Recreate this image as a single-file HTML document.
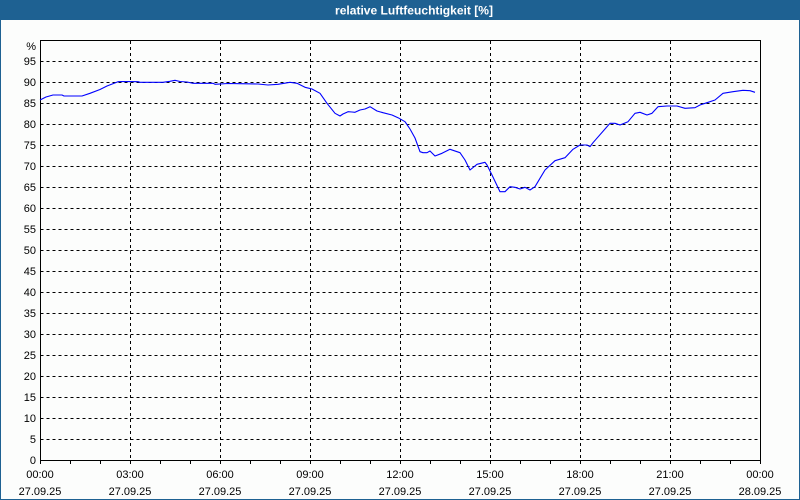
<!DOCTYPE html>
<html><head><meta charset="utf-8"><style>
html,body{margin:0;padding:0;background:#fcfdfc;}
svg{display:block;}
text{font-family:"Liberation Sans","DejaVu Sans",sans-serif;}
</style></head><body>
<svg width="800" height="500" viewBox="0 0 800 500" xmlns="http://www.w3.org/2000/svg">
<rect x="0" y="0" width="800" height="500" fill="#fcfdfc"/>
<rect x="0" y="0" width="800" height="20" fill="#1e6192"/>
<rect x="0" y="0" width="1" height="500" fill="#1e6192"/>
<rect x="799" y="0" width="1" height="500" fill="#1e6192"/>
<rect x="0" y="499" width="800" height="1" fill="#1e6192"/>
<text x="414" y="14.5" text-anchor="middle" font-size="12" font-weight="bold" fill="#ffffff" textLength="158" lengthAdjust="spacingAndGlyphs">relative Luftfeuchtigkeit [%]</text>

<g stroke="#000" stroke-width="1" stroke-dasharray="3,3" shape-rendering="crispEdges" fill="none">
<path d="M40.5 61.5H760M40.5 82.5H760M40.5 103.5H760M40.5 124.5H760M40.5 145.5H760M40.5 166.5H760M40.5 187.5H760M40.5 208.5H760M40.5 229.5H760M40.5 250.5H760M40.5 271.5H760M40.5 292.5H760M40.5 313.5H760M40.5 334.5H760M40.5 355.5H760M40.5 376.5H760M40.5 397.5H760M40.5 418.5H760M40.5 439.5H760"/>
<path d="M130.5 41V460M220.5 41V460M310.5 41V460M400.5 41V460M490.5 41V460M580.5 41V460M670.5 41V460"/>
</g>
<g stroke="#000" stroke-width="1" shape-rendering="crispEdges" fill="none">
<path d="M40.5 40.5H760.5V460.5H40.5Z"/>
<path d="M40.5 460V464M70.5 460V464M100.5 460V464M130.5 460V464M160.5 460V464M190.5 460V464M220.5 460V464M250.5 460V464M280.5 460V464M310.5 460V464M340.5 460V464M370.5 460V464M400.5 460V464M430.5 460V464M460.5 460V464M490.5 460V464M520.5 460V464M550.5 460V464M580.5 460V464M610.5 460V464M640.5 460V464M670.5 460V464M700.5 460V464M730.5 460V464M760.5 460V464"/>
</g>

<polyline fill="none" stroke="#0000ff" stroke-width="1.1" stroke-linejoin="round" points="40,100 46,97 53,95 62,95 64,96 82,96 90,93.3 100,89.5 107,86 118,81.7 122,81.5 138,81.7 140,82.3 163,82.3 170,81.3 175,80.3 180,81.5 187,82 193,83.3 213,83.3 215,84.3 228,83.5 240,83.7 258,84 268,85 278,84.3 290,82.3 297,83.3 305,87.3 312,89 320,93.3 327,103.3 335,113.3 340,116 343,114 348,111.7 352,112 355,112.3 360,110 365,109 370,106.7 377,111 383,112.7 392,115 398,117.7 405,121.7 410,129 415,138 420,151.7 423,152.7 427,152.7 430,151 435,156 442,153.3 450,149.3 460,152.7 465,160 470,170 477,164.3 485,162.3 487,165 492,175 500,191.7 505,191.7 510,186.7 515,187.3 520,189 525,187.3 530,190 535,186.7 540,178.3 545,170 555,160.7 565,157.7 573,149.3 580,145 587,145 590,146.7 593,142.7 610,123.3 615,123.3 620,125 628,121.7 635,113.3 640,112.3 647,115 652,113.3 658,106.7 667,106 677,106 685,108.3 695,107.7 700,105 707,102.7 715,100 723,93.3 733,91.7 743,90.3 750,90.7 755,92.3"/>

<g font-size="11" fill="#000" text-anchor="end">
<text x="36" y="50">%</text>
<text x="36" y="65">95</text>
<text x="36" y="86">90</text>
<text x="36" y="107">85</text>
<text x="36" y="128">80</text>
<text x="36" y="149">75</text>
<text x="36" y="170">70</text>
<text x="36" y="191">65</text>
<text x="36" y="212">60</text>
<text x="36" y="233">55</text>
<text x="36" y="254">50</text>
<text x="36" y="275">45</text>
<text x="36" y="296">40</text>
<text x="36" y="317">35</text>
<text x="36" y="338">30</text>
<text x="36" y="359">25</text>
<text x="36" y="380">20</text>
<text x="36" y="401">15</text>
<text x="36" y="422">10</text>
<text x="36" y="443">5</text>
<text x="36" y="464">0</text>
</g>
<g font-size="11" fill="#000" text-anchor="middle">
<text x="40" y="478">00:00</text><text x="40" y="495">27.09.25</text>
<text x="130" y="478">03:00</text><text x="130" y="495">27.09.25</text>
<text x="220" y="478">06:00</text><text x="220" y="495">27.09.25</text>
<text x="310" y="478">09:00</text><text x="310" y="495">27.09.25</text>
<text x="400" y="478">12:00</text><text x="400" y="495">27.09.25</text>
<text x="490" y="478">15:00</text><text x="490" y="495">27.09.25</text>
<text x="580" y="478">18:00</text><text x="580" y="495">27.09.25</text>
<text x="670" y="478">21:00</text><text x="670" y="495">27.09.25</text>
<text x="760" y="478">00:00</text><text x="760" y="495">28.09.25</text>
</g>
</svg>
</body></html>
